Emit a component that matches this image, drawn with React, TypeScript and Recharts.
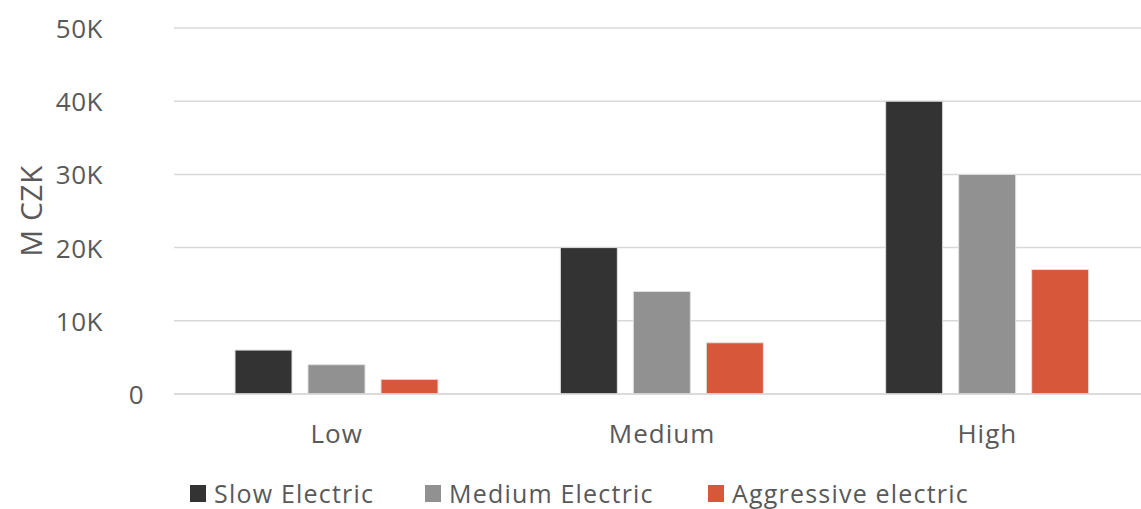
import React from "react";
import { BarChart, Bar, XAxis, YAxis, CartesianGrid, Legend, Label } from "recharts";

const categories = ["Low", "Medium", "High"];
const slowElectric = [6000, 20000, 40000];
const mediumElectric = [4000, 14000, 30000];
const aggressiveElectric = [2000, 7000, 17000];
const yTicks = [0, 10000, 20000, 30000, 40000, 50000];
const seriesNames = ["Slow Electric", "Medium Electric", "Aggressive electric"];
const seriesKeys = ["slow", "medium", "aggressive"];
const seriesColors = ["#333333", "#919191", "#D6573A"];

const data = categories.map((c, i) => ({
  name: c,
  slow: slowElectric[i],
  medium: mediumElectric[i],
  aggressive: aggressiveElectric[i],
}));

const FONT = "'Open Sans', sans-serif";
const TEXT = "#595959";

const fmt = (v: number) => (v === 0 ? "0" : `${v / 1000}K`);

const YTick = (props: any) => {
  const { y, payload } = props;
  const v = payload.value;
  const xEnd = v === 0 ? 144 : 103;
  return (
    <text x={xEnd} y={y} textAnchor="end" dominantBaseline="central" fontFamily={FONT} fontSize={26} letterSpacing={0.5} fill={TEXT}>
      {fmt(v)}
    </text>
  );
};

const XTick = (props: any) => {
  const { x, y, payload } = props;
  return (
    <text x={x} y={y + 31} textAnchor="middle" dominantBaseline="central" fontFamily={FONT} fontSize={26} letterSpacing={1} fill={TEXT}>
      {payload.value}
    </text>
  );
};

const legendLeft = [190, 425, 708];

const LegendContent = () => (
  <div style={{ position: "relative", height: 31, width: 1141, fontFamily: FONT, fontSize: 25, letterSpacing: 1.2, color: TEXT }}>
    {seriesNames.map((n, i) => (
      <div key={n} style={{ position: "absolute", left: legendLeft[i], top: 0, display: "flex", alignItems: "center", height: 31, whiteSpace: "nowrap" }}>
        <div style={{ width: 16, height: 17, background: seriesColors[i], marginRight: 8 }} />
        <span style={{ lineHeight: "31px" }}>{n}</span>
      </div>
    ))}
  </div>
);

export default function App() {
  return (
    <div style={{ position: "absolute", left: 0, top: 0, width: 1141, height: 509, overflow: "hidden", background: "#fff" }}>
      <BarChart
        width={1150}
        height={509}
        data={data}
        margin={{ top: 28, right: 0, bottom: 0, left: 0 }}
        barSize={57}
        barGap={16}
      >
        <CartesianGrid vertical={false} stroke="#d9d9d9" strokeWidth={1.5} />
        <XAxis
          dataKey="name"
          height={84}
          axisLine={{ stroke: "#d9d9d9", strokeWidth: 1.5 }}
          tickLine={false}
          tick={<XTick />}
          interval={0}
        />
        <YAxis
          width={174}
          domain={[0, 50000]}
          ticks={yTicks}
          axisLine={false}
          tickLine={false}
          tick={<YTick />}
          interval={0}
        >
          <Label
            content={(p: any) => {
              const vb = p.viewBox;
              const cy = vb.y + vb.height / 2;
              return (
                <text x={30} y={cy} transform={`rotate(-90 30 ${cy})`} textAnchor="middle" dominantBaseline="central" fontFamily={FONT} fontSize={30} letterSpacing={0.5} fill={TEXT}>
                  M CZK
                </text>
              );
            }}
          />
        </YAxis>
        <Legend
          verticalAlign="bottom"
          content={<LegendContent />}
          wrapperStyle={{ position: "absolute", left: 0, top: 478, width: 1141, height: 31 }}
        />
        {seriesKeys.map((k, i) => (
          <Bar key={k} dataKey={k} name={seriesNames[i]} fill={seriesColors[i]} stroke="#e0e0e0" strokeWidth={1} isAnimationActive={false} />
        ))}
      </BarChart>
    </div>
  );
}
